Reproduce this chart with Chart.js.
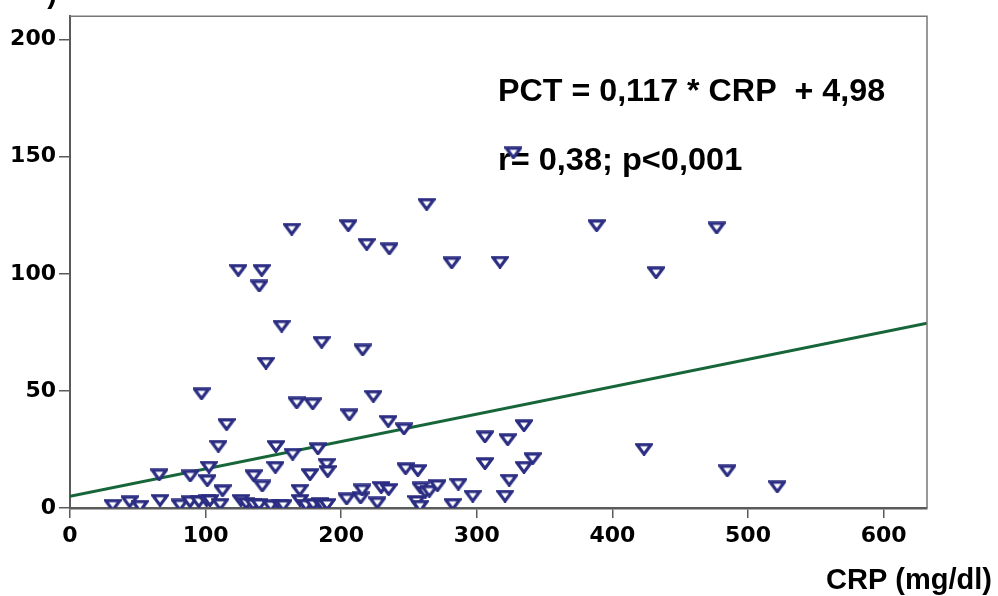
<!DOCTYPE html>
<html>
<head>
<meta charset="utf-8">
<script src="https://cdn.jsdelivr.net/npm/chart.js@4/dist/chart.umd.min.js"></script>
<style>
  html, body { margin: 0; padding: 0; background: #fff; }
  #wrap { width: 998px; height: 596px; position: relative; }
</style>
</head>
<body>
<div id="wrap"><canvas id="chart"></canvas></div>
<script>
// CRP (mg/dl) against PCT, one entry per patient
const crp = [
  31.5, 44, 51.6, 66.4, 81, 88.5, 95, 100.8, 103.2, 110.8,
  126, 130, 135.2, 139.5, 148, 155, 157.3, 169.6, 174, 179.4,
  184.4, 186.5, 189.5, 204, 214.3, 226.6, 255.5, 258.1, 282.2,
  112.5, 101.3, 102.5, 65.8, 88.7, 135.5, 141.8, 151.5, 169.4, 177,
  189.3, 190, 215.5, 229.5, 235, 247.5, 256.5, 258.5, 262, 265,
  271, 286.4, 297, 306, 320.8, 323.9, 334.8, 341.2, 484.7, 521.6,
  97, 115.5, 109.4, 151.9, 164.2, 167.2, 179, 182.8, 206, 223.7,
  234.7, 246.3, 306, 322.8, 334.8, 423.3,
  144.5, 156.1, 185.6, 215.8, 139.6, 124.1, 141.4, 163.5, 205.2, 218.8,
  235.5, 263, 281.5, 317.1, 327, 388.4, 432.2, 476.9
];
const pct = [
  1.2, 2.7, 0.8, 3.3, 1.3, 2.7, 2.7, 3.2, 3.2, 1.6,
  3.3, 2.0, 1.5, 1.5, 1.0, 1.1, 1.1, 3.3, 1.2, 1.5,
  2.0, 1.2, 1.5, 3.9, 4.3, 2.2, 2.8, 0.8, 1.6,
  7.4, 11.7, 17.5, 14.2, 13.7, 13.8, 9.4, 17.4, 7.6, 14.3,
  18.7, 15.6, 7.7, 8.8, 7.9, 16.8, 16, 8.6, 6.8, 7.2,
  9.6, 10.2, 5.1, 19, 5.1, 11.9, 17.4, 21.1, 15.9, 9.1,
  48.8, 35.7, 26.4, 26.3, 23, 44.9, 44.5, 25.3, 39.8, 47.7,
  37, 33.8, 30.4, 29.2, 35.2, 25.1,
  61.9, 77.7, 70.8, 67.5, 94.8, 101.5, 101.5, 119.1, 120.6, 112.6,
  110.7, 129.7, 104.7, 105, 151.7, 120.6, 100.5, 119.6
];

// fitted line: PCT = 0,117 * CRP + 4,98
const slope = 0.117;
const intercept = 4.98;

const xMax = 632;
const yMax = 210;
const xTicks = [0, 100, 200, 300, 400, 500, 600];
const yTicks = [0, 50, 100, 150, 200];

const navy = '#2b2d82';
const green = '#17663a';
const axisGrey = '#5a5a5a';

// open down-pointing triangle marker
function triangleMarker() {
  const c = document.createElement('canvas');
  c.width = 18;
  c.height = 13;
  const g = c.getContext('2d');
  g.beginPath();
  g.moveTo(1.8, 1.8);
  g.lineTo(16.2, 1.8);
  g.lineTo(9, 11.4);
  g.closePath();
  g.fillStyle = '#fff';
  g.fill();
  g.lineWidth = 3.2;
  g.strokeStyle = navy;
  g.lineJoin = 'miter';
  g.stroke();
  return c;
}

const points = crp.map((x, i) => ({ x, y: pct[i] }));
const fit = [0, xMax].map(x => ({ x, y: intercept + slope * x }));

// text stretched a little wider than the font draws it
function wideText(ctx, text, x, y, sx) {
  ctx.save();
  ctx.translate(x, y);
  ctx.scale(sx, 1);
  ctx.fillText(text, 0, 0);
  ctx.restore();
}

const frameAndText = {
  id: 'frameAndText',
  beforeDatasetsDraw(chart) {
    const { ctx } = chart;
    ctx.save();
    ctx.fillStyle = '#000';
    ctx.textBaseline = 'alphabetic';
    ctx.textAlign = 'left';
    ctx.font = 'bold 31px "Liberation Sans", Arial, sans-serif';
    wideText(ctx, 'PCT = 0,117 * CRP  + 4,98', 498, 101, 1.04);
    wideText(ctx, 'r= 0,38; p<0,001', 498, 170, 1.05);
    ctx.restore();
  },
  afterDraw(chart) {
    const { ctx, chartArea: a } = chart;
    ctx.save();
    // top and right sides of the plot box
    ctx.strokeStyle = '#777';
    ctx.lineWidth = 1.5;
    ctx.beginPath();
    ctx.moveTo(a.left, a.top);
    ctx.lineTo(a.right, a.top);
    ctx.lineTo(a.right, a.bottom);
    ctx.stroke();

    ctx.fillStyle = '#000';
    ctx.font = 'bold 29px "Liberation Sans", Arial, sans-serif';
    ctx.textAlign = 'right';
    ctx.textBaseline = 'alphabetic';
    ctx.fillText('CRP (mg/dl)', 992, 589);
    // tail of the y-axis title, cut off by the top edge
    ctx.fillText(')', 57, 3);
    ctx.restore();
  }
};

const tickFont = { family: '"DejaVu Sans", sans-serif', size: 22, weight: 'bold' };

new Chart(document.getElementById('chart'), {
  data: {
    datasets: [
      {
        type: 'scatter',
        data: points,
        pointStyle: triangleMarker(),
        pointRadius: 8,
        pointHoverRadius: 8,
        order: 0
      },
      {
        type: 'line',
        data: fit,
        borderColor: green,
        borderWidth: 3,
        pointRadius: 0,
        fill: false,
        order: 1
      }
    ]
  },
  options: {
    responsive: true,
    maintainAspectRatio: false,
    animation: false,
    layout: { padding: { top: 12, right: 71, left: 0, bottom: 0 } },
    scales: {
      x: {
        type: 'linear',
        min: 0,
        max: xMax,
        afterFit: s => { s.height = 88; },
        afterBuildTicks: s => { s.ticks = xTicks.map(v => ({ value: v })); },
        ticks: { color: '#000', font: tickFont, padding: 5, maxRotation: 0 },
        grid: { drawOnChartArea: false, tickLength: 10, color: axisGrey, lineWidth: 1.5 },
        border: { color: axisGrey, width: 2.5 }
      },
      y: {
        type: 'linear',
        min: 0,
        max: yMax,
        afterFit: s => { s.width = 70; },
        afterBuildTicks: s => { s.ticks = yTicks.map(v => ({ value: v })); },
        ticks: { color: '#000', font: tickFont, padding: 3 },
        grid: { drawOnChartArea: false, tickLength: 11, color: axisGrey, lineWidth: 1.5 },
        border: { color: axisGrey, width: 2 }
      }
    },
    plugins: {
      legend: { display: false },
      tooltip: { enabled: false }
    }
  },
  plugins: [frameAndText]
});
</script>
</body>
</html>
